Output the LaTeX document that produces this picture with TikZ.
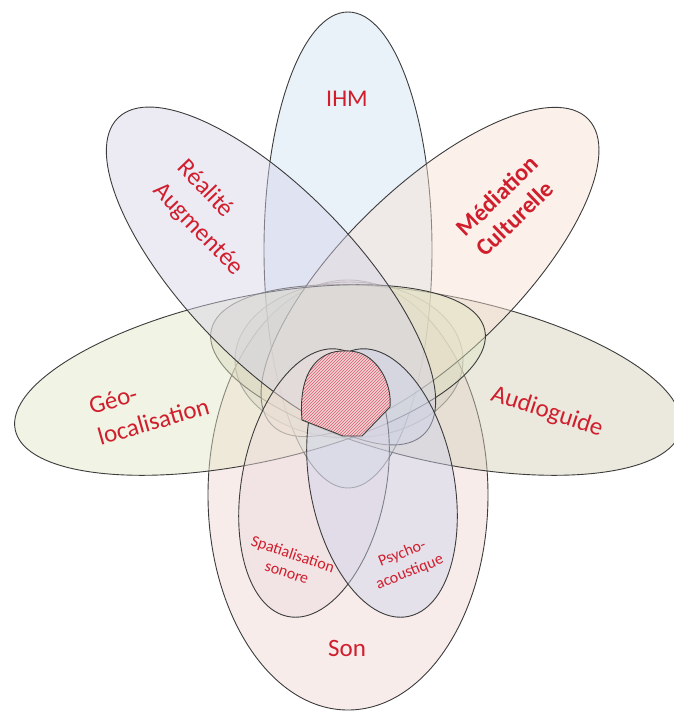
\documentclass[tikz,border=0pt]{standalone}
\usepackage{fontspec}
\setmainfont{Carlito}
\definecolor{lblred}{RGB}{208,30,45}
\definecolor{edge}{RGB}{60,60,60}
\definecolor{cIHM}{RGB}{208,226,242}
\definecolor{cRea}{RGB}{214,211,232}
\definecolor{cMed}{RGB}{248,226,210}
\definecolor{cGeo}{RGB}{226,230,196}
\definecolor{cAud}{RGB}{212,207,184}
\definecolor{cSon}{RGB}{240,213,211}
\definecolor{cSpa}{RGB}{236,220,222}
\definecolor{cPsy}{RGB}{205,212,234}
\definecolor{cInn}{RGB}{195,192,190}
\definecolor{hatchbg}{RGB}{242,208,211}
\definecolor{hatchln}{RGB}{214,96,110}
\begin{document}
\begin{tikzpicture}[x=1pt,y=-1pt,
  petal/.style={draw=edge, line width=0.9pt, fill opacity=0.45},
  innerell/.style={draw=edge!70, line width=0.9pt, fill opacity=0.3},
  lbl/.style={text=lblred, font=\fontsize{25}{31}\selectfont, inner sep=0pt},
  smalllbl/.style={text=lblred, font=\fontsize{16}{19}\selectfont, align=center, inner sep=0pt},
  hatchline/.style={draw=hatchln, line width=0.6pt}]
\fill[white] (0,0) rectangle (673,711);
\useasboundingbox (0,0) rectangle (673,711);
% Son
\path[petal, fill=cSon] (348,495) ellipse [x radius=140, y radius=215];
% IHM
\path[petal, fill=cIHM] (348,250) ellipse [x radius=84, y radius=238];
% inner ellipse
\path[innerell, fill=cInn] (349,360) ellipse [x radius=114, y radius=78];
% Audioguide
\path[petal, fill=cAud, rotate around={-12:(446,380)}] (446,380) ellipse [x radius=240, y radius=83];
% Mediation
\path[petal, fill=cMed, rotate around={44:(430,272)}] (430,272) ellipse [x radius=220, y radius=85];
% Geo
\path[petal, fill=cGeo, rotate around={12:(250,380)}] (250,380) ellipse [x radius=240, y radius=83];
% Realite
\path[petal, fill=cRea, rotate around={-46:(271,276)}] (271,276) ellipse [x radius=220, y radius=85];
% Spatialisation / Psycho
\path[petal, fill=cSpa, rotate around={-11:(314,483)}] (314,483) ellipse [x radius=72, y radius=136];
\path[petal, fill=cPsy, rotate around={11:(382,483)}] (382,483) ellipse [x radius=72, y radius=136];
% hatched core
\fill[hatchbg] (302,420) -- (343,436) -- (362,436) -- (390,407) .. controls (392,384) and (379,360) .. (360,353) .. controls (352,350) and (336,350) .. (328,354) .. controls (309,362) and (299,385) .. (302,420) -- cycle;
\begin{scope}
\clip (302,420) -- (343,436) -- (362,436) -- (390,407) .. controls (392,384) and (379,360) .. (360,353) .. controls (352,350) and (336,350) .. (328,354) .. controls (309,362) and (299,385) .. (302,420) -- cycle;
\foreach \i in {150,153,...,420} \draw[hatchline] (\i,450) -- (\i+120,330);
\end{scope}
\draw[edge, line width=0.9pt] (302,420) -- (343,436) -- (362,436) -- (390,407) .. controls (392,384) and (379,360) .. (360,353) .. controls (352,350) and (336,350) .. (328,354) .. controls (309,362) and (299,385) .. (302,420) -- cycle;
% labels
\node[lbl, font=\fontsize{24}{29}\selectfont] (ihm) at (347,99) {IHM};
\node[lbl, rotate=-46, align=left, font=\fontsize{25}{33}\selectfont] (rea) at (210,218) {Réalité\\Augmentée};
\node[lbl, rotate=44, align=left, font=\fontsize{24}{28}\selectfont\bfseries] (med) at (507,206) {Médiation\\Culturelle};
\node[lbl, rotate=16, align=left, font=\fontsize{25}{32}\selectfont] (geo) at (149,406) {Géo-\\localisation};
\node[lbl, rotate=-18] (aud) at (547,412) {Audioguide};
\node[lbl] (son) at (347,648) {Son};
\node[smalllbl, rotate=-18.6] (spa) at (290,563) {Spatialisation\\sonore};
\node[smalllbl, rotate=22, font=\fontsize{16}{20}\selectfont] (psy) at (406,563) {Psycho-\\acoustique};
\end{tikzpicture}
\end{document}
